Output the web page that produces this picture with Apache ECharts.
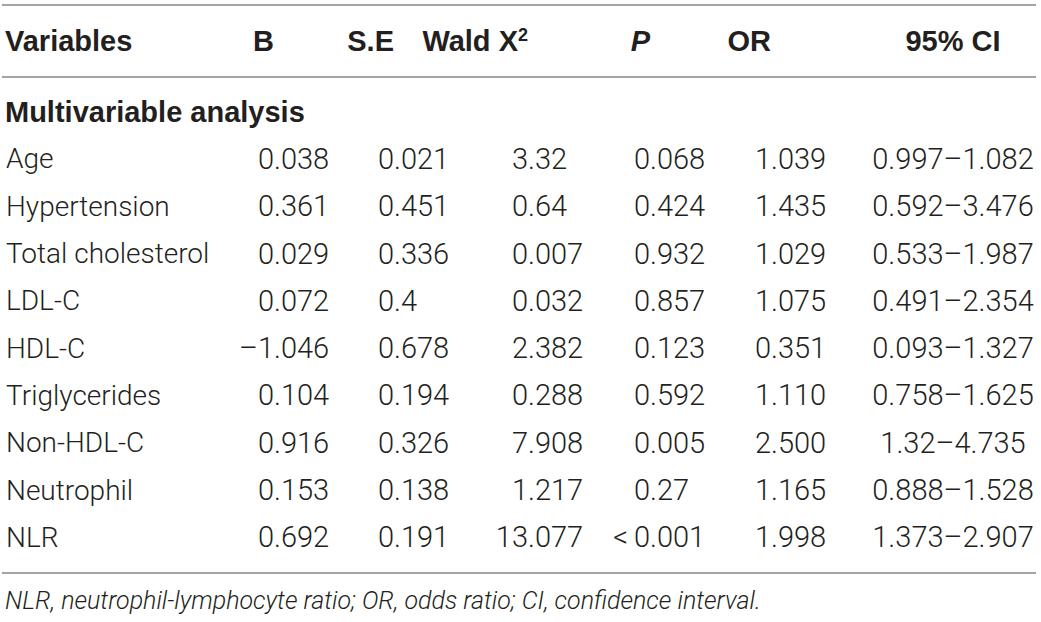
<!DOCTYPE html>
<html>
<head>
<meta charset="utf-8">
<script src="https://cdn.jsdelivr.net/npm/echarts@6/dist/echarts.min.js"></script>
<style>
  html, body { margin: 0; padding: 0; background: #fff; }
  #table { width: 1041px; height: 622px; }
</style>
</head>
<body>
<div id="table"></div>
<script>
var headers = ['Variables', 'B', 'S.E', 'Wald X', 'P', 'OR', '95% CI'];
var sectionLabel = 'Multivariable analysis';
var variables = ['Age', 'Hypertension', 'Total cholesterol', 'LDL-C', 'HDL-C', 'Triglycerides', 'Non-HDL-C', 'Neutrophil', 'NLR'];
var bValues = ['0.038', '0.361', '0.029', '0.072', '\u20131.046', '0.104', '0.916', '0.153', '0.692'];
var seValues = ['0.021', '0.451', '0.336', '0.4', '0.678', '0.194', '0.326', '0.138', '0.191'];
var waldValues = ['3.32', '0.64', '0.007', '0.032', '2.382', '0.288', '7.908', '1.217', '13.077'];
var pValues = ['0.068', '0.424', '0.932', '0.857', '0.123', '0.592', '0.005', '0.27', '<\u20090.001'];
var orValues = ['1.039', '1.435', '1.029', '1.075', '0.351', '1.110', '2.500', '1.165', '1.998'];
var ciValues = ['0.997\u20131.082', '0.592\u20133.476', '0.533\u20131.987', '0.491\u20132.354', '0.093\u20131.327',
                '0.758\u20131.625', '1.32\u20134.735', '0.888\u20131.528', '1.373\u20132.907'];
var footnote = 'NLR, neutrophil-lymphocyte ratio; OR, odds ratio; CI, confidence interval.';

(function() {
  var ink = '#231f20';
  var rule = '#a3a3a3';
  var bodyFont = '300 29px Roboto, "Liberation Sans", sans-serif';
  var nameFont = '300 28px Roboto, "Liberation Sans", sans-serif';
  var boldFont = 'bold 29px "Liberation Sans", Arial, sans-serif';

  // column anchors (left edge / decimal point / centre), in page pixels
  var colX = [6, 274, 394, 528, 650, 771, 953];
  var colKind = ['left', 'dec', 'dec', 'dec', 'dec', 'dec', 'center'];

  var rows = [sectionLabel].concat(variables);
  var columns = [variables, bValues, seValues, waldValues, pValues, orValues, ciValues];

  var cells = [{ value: [0, 0], text: sectionLabel, kind: 'left', bold: true }];
  variables.forEach(function(v, r) {
    columns.forEach(function(col, c) {
      cells.push({ value: [c, r + 1], text: col[r], kind: colKind[c] });
    });
  });

  var headCells = headers.map(function(h, c) {
    return { value: [c, 0], text: h, kind: c === 0 ? 'left' : (c === 6 ? 'center' : 'right') };
  });

  function textEl(x, y, text, align, font) {
    return {
      type: 'text',
      style: { x: x, y: y, text: text, align: align, verticalAlign: 'middle', font: font, fill: ink }
    };
  }

  function renderBody(params, api) {
    var cell = cells[params.dataIndex];
    var pt = api.coord([colX[api.value(0)], api.value(1)]);
    var font = cell.bold ? boldFont : (cell.kind === 'left' ? nameFont : bodyFont);
    var x = cell.bold ? pt[0] - 1 : pt[0];
    if (cell.kind === 'dec') {
      var i = cell.text.indexOf('.');
      return {
        type: 'group',
        children: [
          textEl(x, pt[1], cell.text.slice(0, i), 'right', font),
          textEl(x, pt[1], cell.text.slice(i), 'left', font)
        ]
      };
    }
    return textEl(x, pt[1], cell.text, cell.kind, font);
  }

  function renderHead(params, api) {
    var cell = headCells[params.dataIndex];
    var pt = api.coord([colX[api.value(0)], api.value(1)]);
    var x = cell.kind === 'left' ? pt[0] - 1 : pt[0];
    if (cell.text === 'Wald X') {
      return {
        type: 'text',
        style: {
          x: x, y: pt[1], align: 'right', verticalAlign: 'middle',
          text: '{a|Wald X}{s|2}',
          rich: {
            a: { font: boldFont, fill: ink, lineHeight: 30 },
            s: { font: 'bold 18px "Liberation Sans", Arial, sans-serif', fill: ink, verticalAlign: 'top', lineHeight: 30 }
          }
        }
      };
    }
    var font = cell.text === 'P' ? 'italic ' + boldFont : boldFont;
    return textEl(x, pt[1], cell.text, cell.kind, font);
  }

  var chart = echarts.init(document.getElementById('table'), null, { renderer: 'svg' });

  chart.setOption({
    animation: false,
    grid: [
      { left: 0, right: 0, top: 5, height: 72 },
      { left: 0, right: 0, top: 88, height: 473 }
    ],
    xAxis: [
      { type: 'value', gridIndex: 0, min: 0, max: 1041, show: false },
      { type: 'value', gridIndex: 1, min: 0, max: 1041, show: false }
    ],
    yAxis: [
      { type: 'category', gridIndex: 0, data: ['header'], show: false },
      { type: 'category', gridIndex: 1, data: rows, inverse: true, show: false }
    ],
    graphic: [
      { type: 'line', shape: { x1: 2, y1: 5, x2: 1036, y2: 5 }, style: { stroke: rule, lineWidth: 2 } },
      { type: 'line', shape: { x1: 2, y1: 77, x2: 1036, y2: 77 }, style: { stroke: rule, lineWidth: 2 } },
      { type: 'line', shape: { x1: 2, y1: 573, x2: 1036, y2: 573 }, style: { stroke: rule, lineWidth: 2 } },
      {
        type: 'text', left: 5, top: 588,
        style: { text: footnote, font: 'italic 300 25px Roboto, "Liberation Sans", sans-serif', fill: ink }
      }
    ],
    series: [
      {
        type: 'custom',
        xAxisIndex: 0, yAxisIndex: 0,
        renderItem: renderHead,
        data: headCells.map(function(c) { return c.value; })
      },
      {
        type: 'custom',
        xAxisIndex: 1, yAxisIndex: 1,
        renderItem: renderBody,
        data: cells.map(function(c) { return c.value; })
      }
    ]
  });
  window.addEventListener('resize', function() { chart.resize(); });
})();
</script>
</body>
</html>
